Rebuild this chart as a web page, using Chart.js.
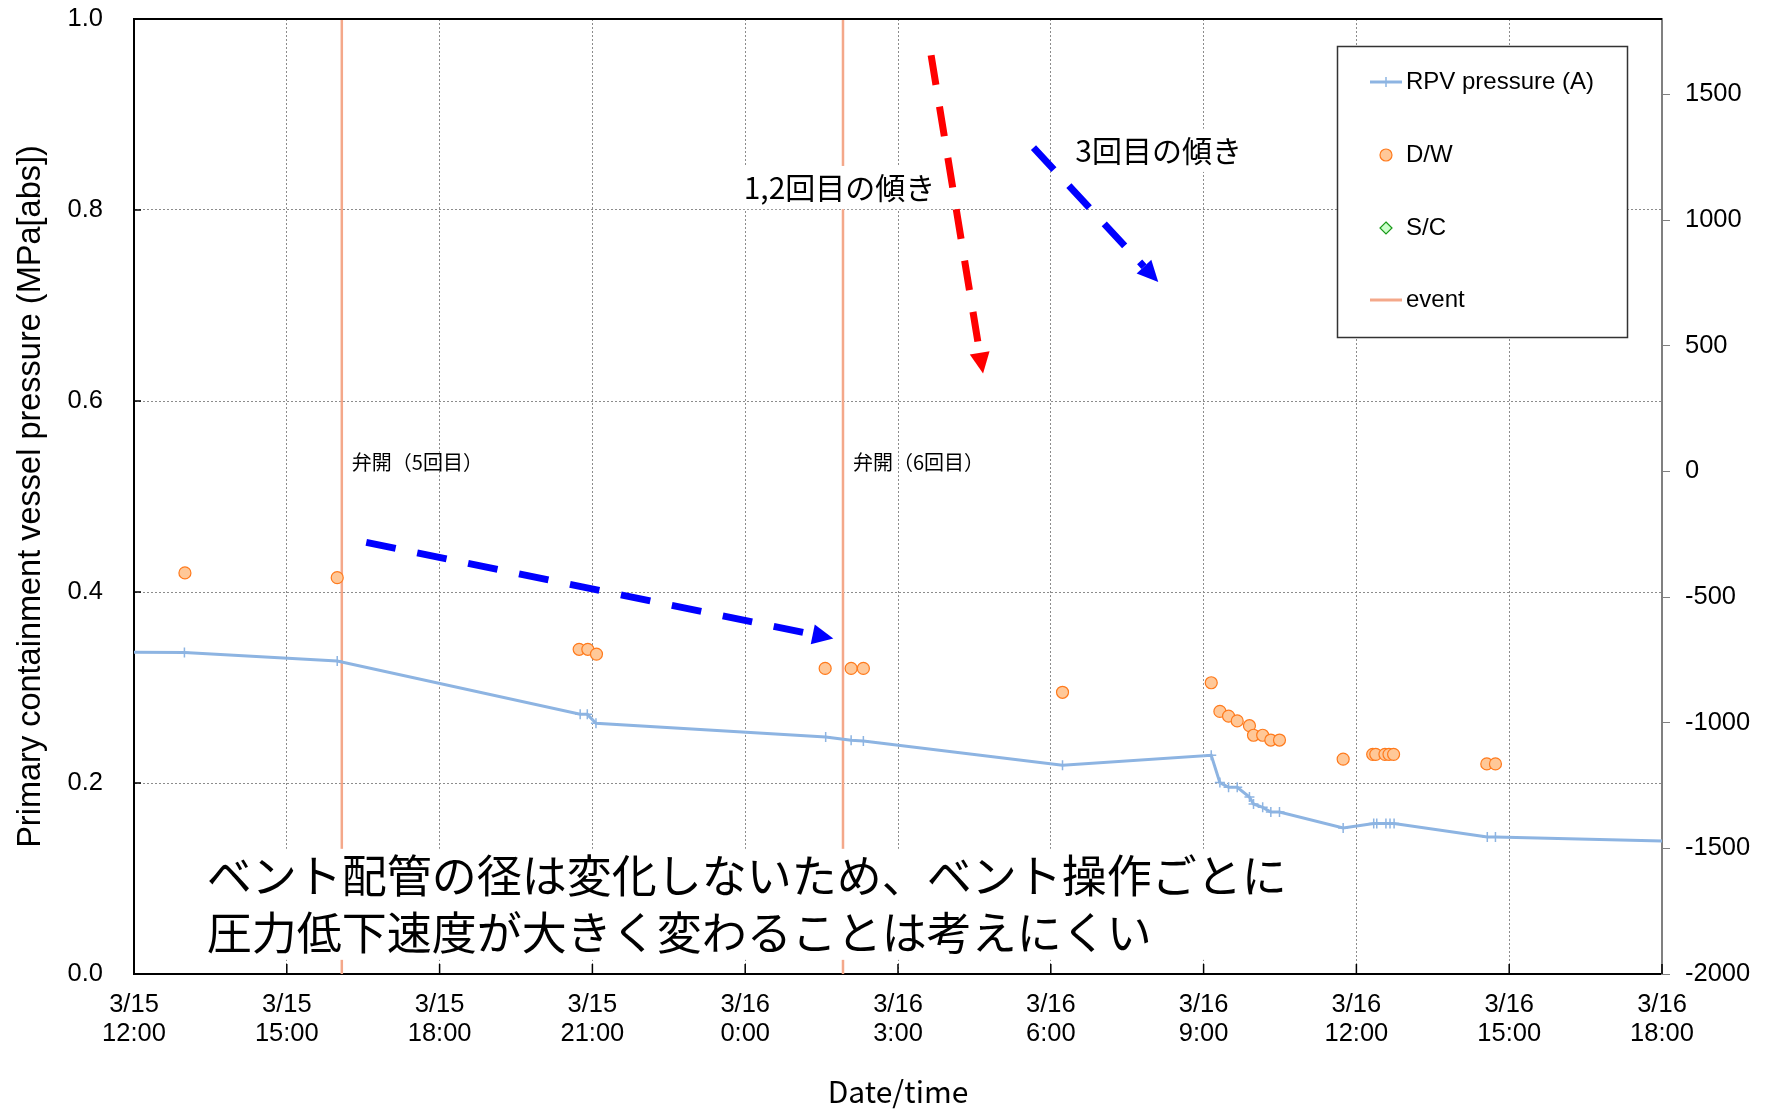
<!DOCTYPE html>
<html>
<head>
<meta charset="utf-8">
<title>Primary containment vessel pressure</title>
<script src="https://cdn.jsdelivr.net/npm/chart.js@4/dist/chart.umd.min.js"></script>
<style>
  body { margin: 0; background: #fff; }
</style>
</head>
<body>
<canvas id="myChart" width="1769" height="1110"></canvas>
<script>
//data, x = hours after 3/15 12:00
const xTickLabels = [
    ["3/15", "12:00"], ["3/15", "15:00"], ["3/15", "18:00"], ["3/15", "21:00"],
    ["3/16", "0:00"], ["3/16", "3:00"], ["3/16", "6:00"], ["3/16", "9:00"],
    ["3/16", "12:00"], ["3/16", "15:00"], ["3/16", "18:00"]
];
const rightTicks = [-2000, -1500, -1000, -500, 0, 500, 1000, 1500];

const rpvHours = [-1, 0.99, 3.99, 8.76, 8.90, 9.07, 13.58, 14.08, 14.32, 18.23, 21.15, 21.32, 21.49, 21.66,
    21.90, 21.98, 22.16, 22.32, 22.49, 23.74, 24.34, 24.40, 24.58, 24.66, 24.74, 26.57, 26.73, 31];
const rpvValues = [0.337, 0.3366, 0.3278, 0.2719, 0.2719, 0.2625, 0.2482, 0.2447, 0.244, 0.2185, 0.229, 0.2004, 0.1955, 0.1955,
    0.1853, 0.178, 0.1745, 0.1697, 0.1697, 0.1529, 0.1575, 0.1575, 0.1575, 0.1575, 0.1575, 0.1435, 0.1435, 0.138];

const dwHours = [1.0, 3.99, 8.74, 8.91, 9.08, 13.57, 14.08, 14.32, 18.23, 21.15, 21.32, 21.49, 21.66,
    21.90, 21.98, 22.16, 22.32, 22.49, 23.74, 24.32, 24.38, 24.56, 24.64, 24.73, 26.56, 26.73];
const dwValues = [0.420, 0.415, 0.340, 0.340, 0.335, 0.320, 0.320, 0.320, 0.295, 0.305, 0.275, 0.270, 0.265,
    0.260, 0.250, 0.250, 0.245, 0.245, 0.225, 0.230, 0.230, 0.230, 0.230, 0.230, 0.220, 0.220];

// S/C has no points in this window
const scHours = [];
const scValues = [];

const eventHours = [4.08, 13.92];
const eventLabels = ["弁開（5回目）", "弁開（6回目）"];

//annotations (in data units)
const noteTexts = ["1,2回目の傾き", "3回目の傾き"];
const notePos = [[11.97, 0.8235], [18.48, 0.8625]];
const bigTextLines = ["ベント配管の径は変化しないため、ベント操作ごとに", "圧力低下速度が大きく変わることは考えにくい"];
const bigTextPos = [1.43, 0.1028, 0.0431];
const arrowFrom = [[15.65, 0.962], [17.66, 0.8653], [4.56, 0.452]];
const arrowTo = [[16.67, 0.6287], [20.11, 0.7246], [13.73, 0.3512]];
const arrowColors = ["#ff0000", "#0000ff", "#0000ff"];

const rpvColor = "#8db4e2";
const dwFill = "#ffc898", dwLine = "#ff7a1c";
const scFill = "#ccffcc", scLine = "#1a9a1a";
const eventColor = "#f4a88a";
const jp = "'Noto Sans CJK JP', sans-serif";

Chart.defaults.font.family = "'Liberation Sans', Arial, sans-serif";
Chart.defaults.color = "#000";

const toPts = (xs, ys) => xs.map((h, i) => ({x: h, y: ys[i]}));
const eventPts = eventHours.flatMap(h => [{x: h, y: 0}, {x: h, y: 1}, {x: h, y: null}]);

function drawArrow(ctx, x1, y1, x2, y2, color) {
    const ang = Math.atan2(y2 - y1, x2 - x1);
    const head = 21, half = 10;
    const bx = x2 - head * Math.cos(ang), by = y2 - head * Math.sin(ang);
    ctx.save();
    ctx.strokeStyle = color;
    ctx.fillStyle = color;
    ctx.lineWidth = 7;
    ctx.setLineDash([30, 22]);
    ctx.beginPath();
    ctx.moveTo(x1, y1);
    ctx.lineTo(bx, by);
    ctx.stroke();
    ctx.setLineDash([]);
    ctx.beginPath();
    ctx.moveTo(x2, y2);
    ctx.lineTo(bx + half * Math.sin(ang), by - half * Math.cos(ang));
    ctx.lineTo(bx - half * Math.sin(ang), by + half * Math.cos(ang));
    ctx.closePath();
    ctx.fill();
    ctx.restore();
}

function whiteText(ctx, text, px, py, size, pad) {
    ctx.font = size + "px " + jp;
    const w = ctx.measureText(text).width;
    ctx.fillStyle = "#fff";
    ctx.fillRect(px - pad, py - size * 0.72, w + pad * 2, size * 1.44);
    ctx.fillStyle = "#000";
    ctx.fillText(text, px, py);
}

const notesPlugin = {
    id: "notes",
    afterDatasetsDraw(chart) {
        const {ctx, scales: {x, y}} = chart;
        ctx.save();
        ctx.textBaseline = "middle";
        ctx.textAlign = "left";

        //valve labels next to the event lines
        ctx.font = "20px " + jp;
        ctx.fillStyle = "#000";
        eventHours.forEach((h, i) => {
            ctx.fillText(eventLabels[i], x.getPixelForValue(h) + 10, y.getPixelForValue(0.536));
        });

        //slope notes
        noteTexts.forEach((t, i) => {
            whiteText(ctx, t, x.getPixelForValue(notePos[i][0]), y.getPixelForValue(notePos[i][1]), 30, 6);
        });

        //big comment with white box
        ctx.font = "45px " + jp;
        const bx = x.getPixelForValue(bigTextPos[0]);
        const y1 = y.getPixelForValue(bigTextPos[1]), y2 = y.getPixelForValue(bigTextPos[2]);
        const w = Math.max(...bigTextLines.map(t => ctx.measureText(t).width));
        ctx.fillStyle = "#fff";
        ctx.fillRect(bx - 9, y1 - 27, w + 18, y2 - y1 + 54);
        ctx.fillStyle = "#000";
        ctx.fillText(bigTextLines[0], bx, y1);
        ctx.fillText(bigTextLines[1], bx, y2);

        //arrows
        arrowFrom.forEach((f, i) => {
            drawArrow(ctx, x.getPixelForValue(f[0]), y.getPixelForValue(f[1]),
                x.getPixelForValue(arrowTo[i][0]), y.getPixelForValue(arrowTo[i][1]), arrowColors[i]);
        });
        ctx.restore();
    },
    afterDraw(chart) {
        const {ctx, chartArea, scales: {x, y}} = chart;
        ctx.save();
        //top frame line
        ctx.strokeStyle = "#000";
        ctx.lineWidth = 2;
        ctx.beginPath();
        ctx.moveTo(chartArea.left, chartArea.top);
        ctx.lineTo(chartArea.right, chartArea.top);
        ctx.stroke();

        //inner tick marks
        ctx.lineWidth = 1.5;
        ctx.beginPath();
        x.ticks.forEach(t => {
            const px = x.getPixelForValue(t.value);
            ctx.moveTo(px, chartArea.bottom);
            ctx.lineTo(px, chartArea.bottom - 10);
        });
        y.ticks.forEach(t => {
            const py = y.getPixelForValue(t.value);
            ctx.moveTo(chartArea.left, py);
            ctx.lineTo(chartArea.left + 7, py);
        });
        ctx.stroke();

        //legend box
        const L = 1337, T = 46, W = 290, H = 291;
        ctx.fillStyle = "#fff";
        ctx.fillRect(L, T, W, H);
        ctx.strokeStyle = "#333";
        ctx.lineWidth = 1.5;
        ctx.strokeRect(L + 0.5, T + 0.5, W, H);
        const cx = L + 49, rows = [T + 36, T + 109, T + 182, T + 254];
        const names = chart.data.datasets.map(d => d.label);

        ctx.lineWidth = 3;
        ctx.strokeStyle = rpvColor;
        ctx.beginPath();
        ctx.moveTo(cx - 16, rows[0]); ctx.lineTo(cx + 16, rows[0]);
        ctx.stroke();
        ctx.lineWidth = 1.5;
        ctx.beginPath();
        ctx.moveTo(cx, rows[0] - 5); ctx.lineTo(cx, rows[0] + 5);
        ctx.stroke();

        ctx.beginPath();
        ctx.arc(cx, rows[1], 6, 0, Math.PI * 2);
        ctx.fillStyle = dwFill;
        ctx.fill();
        ctx.strokeStyle = dwLine;
        ctx.lineWidth = 1.2;
        ctx.stroke();

        ctx.beginPath();
        ctx.moveTo(cx, rows[2] - 6); ctx.lineTo(cx + 6, rows[2]);
        ctx.lineTo(cx, rows[2] + 6); ctx.lineTo(cx - 6, rows[2]);
        ctx.closePath();
        ctx.fillStyle = scFill;
        ctx.fill();
        ctx.strokeStyle = scLine;
        ctx.stroke();

        ctx.lineWidth = 3;
        ctx.strokeStyle = eventColor;
        ctx.beginPath();
        ctx.moveTo(cx - 16, rows[3]); ctx.lineTo(cx + 16, rows[3]);
        ctx.stroke();

        ctx.fillStyle = "#000";
        ctx.font = "24px 'Liberation Sans', Arial, sans-serif";
        ctx.textBaseline = "middle";
        names.forEach((n, i) => ctx.fillText(n, cx + 20, rows[i]));
        ctx.restore();
    }
};

//fixed axis sizes so the plot area lands where the original has it
function fixWidth(w) {
    return s => {
        s.width = w;
        s.paddingTop = 0;
        s.paddingBottom = 0;
    };
}

const gridStyle = {color: "#8c8c8c", lineWidth: 1, drawTicks: false};
const tickFont = {size: 25.5, lineHeight: 1.14};

const config = {
    type: "line",
    data: {
        datasets: [
            {
                label: "RPV pressure (A)",
                data: toPts(rpvHours, rpvValues),
                borderColor: rpvColor,
                borderWidth: 3,
                pointStyle: "cross",
                pointRadius: 5,
                pointBorderWidth: 1.5,
                pointBorderColor: rpvColor,
                yAxisID: "y"
            },
            {
                label: "D/W",
                data: toPts(dwHours, dwValues),
                showLine: false,
                pointStyle: "circle",
                pointRadius: 6,
                pointBackgroundColor: dwFill,
                pointBorderColor: dwLine,
                pointBorderWidth: 1.2,
                yAxisID: "y"
            },
            {
                label: "S/C",
                data: toPts(scHours, scValues),
                showLine: false,
                pointStyle: "rectRot",
                pointRadius: 6,
                pointBackgroundColor: scFill,
                pointBorderColor: scLine,
                yAxisID: "y"
            },
            {
                label: "event",
                data: eventPts,
                borderColor: eventColor,
                borderWidth: 2.5,
                pointRadius: 0,
                spanGaps: false,
                yAxisID: "y"
            }
        ]
    },
    options: {
        responsive: false,
        animation: false,
        devicePixelRatio: 1,
        layout: {padding: {top: 19, left: 0, right: 0, bottom: 0}},
        plugins: {legend: {display: false}, tooltip: {enabled: false}},
        scales: {
            x: {
                type: "linear",
                position: "bottom",
                min: 0,
                max: 30,
                afterFit: s => { s.height = 136; },
                ticks: {
                    stepSize: 3,
                    autoSkip: false,
                    maxRotation: 0,
                    padding: 16,
                    font: tickFont,
                    callback: v => xTickLabels[Math.round(v / 3)]
                },
                grid: gridStyle,
                border: {color: "#000", width: 2, dash: [2, 2]},
                title: {display: true, text: "Date/time", font: {size: 30, family: jp}, padding: {top: 0, bottom: 0}}
            },
            y: {
                position: "left",
                min: 0,
                max: 1,
                afterFit: fixWidth(134),
                ticks: {stepSize: 0.2, padding: 31, font: tickFont, callback: v => v.toFixed(1)},
                grid: gridStyle,
                border: {color: "#000", width: 2, dash: [2, 2]},
                title: {
                    display: true,
                    text: "Primary containment vessel pressure (MPa[abs])",
                    font: {size: 32.5},
                    padding: {top: 12, bottom: 0}
                }
            },
            y2: {
                position: "right",
                min: -2000,
                max: 1800,
                afterFit: fixWidth(107),
                afterBuildTicks: s => { s.ticks = rightTicks.map(v => ({value: v})); },
                ticks: {autoSkip: false, padding: 15, font: tickFont, callback: v => String(v)},
                grid: {drawOnChartArea: false, drawTicks: true, tickLength: 8, color: "#808080"},
                border: {color: "#808080", width: 2}
            }
        }
    },
    plugins: [notesPlugin]
};

const myChart = new Chart(document.getElementById("myChart"), config);
</script>
</body>
</html>
